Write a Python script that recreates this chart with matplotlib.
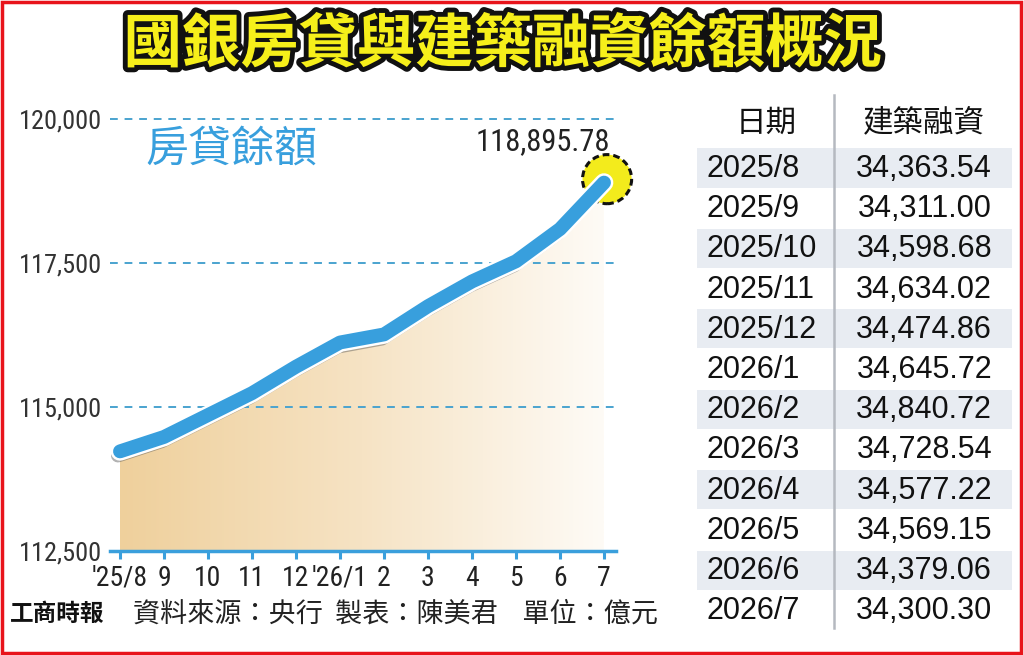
import matplotlib
matplotlib.use("Agg")
import matplotlib.pyplot as plt
import matplotlib.patheffects as pe
import matplotlib.font_manager as fm
from matplotlib.colors import LinearSegmentedColormap
from matplotlib.patches import Rectangle, Polygon
from matplotlib.lines import Line2D
import numpy as np

# ---------------- data ----------------
title = "國銀房貸與建築融資餘額概況"
series_name = "房貸餘額"
months = ["'25/8", "9", "10", "11", "12", "'26/1", "2", "3", "4", "5", "6", "7"]
mortgage = [114230, 114480, 114860, 115240, 115700, 116120, 116260, 116750,
            117180, 117530, 118090, 118895.78]
last_label = "118,895.78"
y_ticks = [112500, 115000, 117500, 120000]

table_header = ["日期", "建築融資"]
table_dates = ["2025/8", "2025/9", "2025/10", "2025/11", "2025/12", "2026/1",
               "2026/2", "2026/3", "2026/4", "2026/5", "2026/6", "2026/7"]
table_values = [34363.54, 34311.00, 34598.68, 34634.02, 34474.86, 34645.72,
                34840.72, 34728.54, 34577.22, 34569.15, 34379.06, 34300.30]
footer_logo = "工商時報"
footer_text = "資料來源：央行  製表：陳美君    單位：億元"

# ---------------- fonts ----------------
names = {f.name for f in fm.fontManager.ttflist}
narrow = next((n for n in ["Liberation Sans Narrow", "Roboto Condensed",
                           "Open Sans Condensed", "Arial Narrow"] if n in names),
              "Liberation Sans")
CJK = ["Noto Sans CJK TC", "DejaVu Sans"]
ARIAL = ["Liberation Sans", "DejaVu Sans"]

W, H = 1024, 655
fig = plt.figure(figsize=(W / 100, H / 100), dpi=100)
fig.patch.set_facecolor("white")


def fx(x):
    return x / W


def fy(y):
    return 1 - y / H


# ---------------- chart axes ----------------
ax_left, ax_right, ax_top, ax_bot = 110, 616, 100, 551
ax = fig.add_axes([fx(ax_left), fy(ax_bot), (ax_right - ax_left) / W,
                   (ax_bot - ax_top) / H])
ax.set_facecolor("none")
x = np.arange(len(months))
px_per_idx = 44.0
ax.set_xlim(-(120 - ax_left) / px_per_idx, len(months) - 1 + (ax_right - 604) / px_per_idx)
px_per_val = 144.0 / 2500.0
y0 = y_ticks[0]
ax.set_ylim(y0, y0 + (ax_bot - ax_top) / px_per_val)

for s in ["top", "right", "left"]:
    ax.spines[s].set_visible(False)
ax.spines["bottom"].set_color("#3a9fdc")
ax.spines["bottom"].set_linewidth(2.5)

# gridlines (dashed)
for v in y_ticks[1:]:
    ax.axhline(v, color="#4aa3cf", lw=1.4, ls=(0, (4, 3.5)), zorder=1)

# gradient fill under the line
cmap = LinearSegmentedColormap.from_list("tan", ["#efd09c", "#f6e3c4", "#fefbf6"])
grad = np.linspace(0, 1, 256).reshape(1, -1)
im = ax.imshow(grad, cmap=cmap, aspect="auto",
               extent=[x[0], x[-1], y0, max(mortgage)], zorder=0.5)
poly = Polygon(np.column_stack([np.r_[x, x[-1], x[0]],
                                np.r_[mortgage, y0, y0]]),
               closed=True, transform=ax.transData, facecolor="none", edgecolor="none")
ax.add_patch(poly)
im.set_clip_path(poly)

# end marker
ax.scatter([x[-1] + 0.07], [mortgage[-1] + 60], s=1250, facecolor="#f3eb1c",
           edgecolor="#111111", linewidths=2.2, linestyle=(0, (2.2, 1.3)), zorder=3,
           clip_on=False)

# main line
ax.plot(x, mortgage, color="#389fdd", lw=10, solid_capstyle="round",
        solid_joinstyle="round", zorder=4, clip_on=False,
        path_effects=[pe.SimpleLineShadow(offset=(-1.5, -3), shadow_color="#555555", alpha=0.45),
                      pe.Stroke(linewidth=13.5, foreground="white"), pe.Normal()])

ax.set_yticks(y_ticks)
ax.set_yticklabels([f"{v:,}" for v in y_ticks])
ax.set_xticks(x)
ax.set_xticklabels(months)
ax.tick_params(axis="y", length=0, pad=6, labelsize=19, labelcolor="#333333")
ax.tick_params(axis="x", length=6, width=2.2, color="#3a9fdc", pad=4,
               labelsize=20, labelcolor="#222222")
for lab in ax.get_xticklabels() + ax.get_yticklabels():
    lab.set_fontfamily(narrow)

ax.text(x[-1] - 1.4, mortgage[-1] + 720, last_label, ha="center", va="center",
        fontsize=22, family=narrow, color="#222222", zorder=5)
ax.text(2.52, 119470, series_name, ha="center", va="center", fontsize=31,
        family=CJK, color="#389fdd", zorder=5)

# ---------------- title ----------------
fig.text(fx(503), fy(45), title, ha="center", va="center", fontsize=42,
         family=CJK, weight="black", color="#f6ef1a",
         path_effects=[pe.withStroke(linewidth=7, foreground="#111111")])

# ---------------- table ----------------
row0, row_h = 168, 40.2
for i, (d, v) in enumerate(zip(table_dates, table_values)):
    cy = row0 + i * row_h
    if i % 2 == 0:
        fig.patches.append(Rectangle((fx(697), fy(cy + 19.5)), (1012 - 697) / W, 39 / H,
                                     transform=fig.transFigure, facecolor="#e8ecf2",
                                     edgecolor="none", zorder=0))
    fig.text(fx(707), fy(cy + 1), d, ha="left", va="center", fontsize=22,
             family=ARIAL, color="#111111")
    fig.text(fx(992), fy(cy + 1), f"{v:,.2f}", ha="right", va="center",
             fontsize=22, family=ARIAL, color="#111111")

fig.text(fx(766), fy(123), table_header[0], ha="center", va="center", fontsize=22,
         family=CJK, color="#111111")
fig.text(fx(924), fy(123), table_header[1], ha="center", va="center", fontsize=22,
         family=CJK, color="#111111")
fig.lines.append(Line2D([fx(834), fx(834)], [fy(95), fy(628)], transform=fig.transFigure,
                        color="#b5b9c0", lw=1.8))

# ---------------- footer ----------------
fig.text(fx(10), fy(614), footer_logo, ha="left", va="center", fontsize=17,
         family=CJK, weight="black", color="#111111")
fig.text(fx(133), fy(614), footer_text, ha="left", va="center", fontsize=19.5,
         family=CJK, color="#222222")

# ---------------- red border ----------------
fig.patches.append(Rectangle((0.0015, 0.003), 0.996, 0.994, transform=fig.transFigure,
                             facecolor="none", edgecolor="#e8141b", lw=2.5, zorder=10))

fig.savefig("out.png", dpi=100, facecolor="white")
